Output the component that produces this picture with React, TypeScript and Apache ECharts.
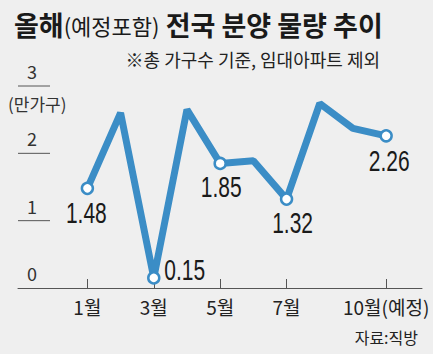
import React, { useEffect, useRef } from "react";
import * as echarts from "echarts";

const months = [1, 2, 3, 4, 5, 6, 7, 8, 9, 10];
const values = [1.48, 2.6, 0.15, 2.65, 1.85, 1.89, 1.32, 2.74, 2.37, 2.26];
const labeledMonths = [1, 3, 5, 7, 10];
const xTickMonths = [1, 3, 5, 7, 10];
const yTicks = [0, 1, 2, 3];
const title = "올해";
const titleParen = "(예정포함)";
const titleRest = " 전국 분양 물량 추이";
const subtitle = "※총 가구수 기준, 임대아파트 제외";
const unitText = "(만가구)";
const sourceText = "자료:직방";

const BLUE = "#3b8dc6";
const LAT = "'Liberation Sans', Arial, sans-serif";
const KR = "'Noto Sans CJK KR', sans-serif";

// label centre offsets (px) relative to the point
const labelOffset: Record<number, [number, number]> = {
  1: [-1, 24],
  3: [31, -8],
  5: [1, 23],
  7: [6, 23],
  10: [3, 25],
};

export default function App() {
  const ref = useRef<HTMLDivElement>(null);
  useEffect(() => {
    const chart = echarts.init(ref.current!, null, { renderer: "svg" });
    const lineData = months.map((m, i) => {
      const labeled = labeledMonths.includes(m);
      if (!labeled) return { value: [m, values[i]], symbol: "none" };
      return {
        value: [m, values[i]],
        symbol: "circle",
        symbolSize: 11,
        itemStyle: { color: "#ffffff", borderColor: BLUE, borderWidth: 2.5 },
      };
    });
    const labelData = months
      .map((m, i) => [m, values[i]])
      .filter((d) => labeledMonths.includes(d[0]));
    chart.setOption({
      animation: false,
      backgroundColor: "#efefef",
      grid: { left: 18, right: 11, top: 86, bottom: 66 },
      xAxis: {
        type: "value",
        min: -1.09,
        max: 11.08,
        axisLine: { show: true, lineStyle: { color: "#555", width: 1 } },
        axisTick: {
          show: true,
          inside: true,
          length: 9,
          customValues: xTickMonths,
          lineStyle: { color: "#555" },
        },
        axisLabel: {
          customValues: xTickMonths,
          formatter: (v: number) => (v === 10 ? "10월(예정)" : v + "월"),
          fontFamily: KR,
          fontSize: 19,
          color: "#222",
          margin: 9,
        },
        splitLine: { show: false },
      },
      yAxis: {
        type: "value",
        min: 0,
        max: 3,
        interval: 1,
        axisLine: { show: false },
        axisTick: { show: false },
        splitLine: { show: false },
        axisLabel: {
          inside: true,
          align: "center",
          verticalAlign: "bottom",
          margin: 14,
          padding: [0, 0, 6, 0],
          fontFamily: KR,
          fontSize: 18,
          color: "#333",
          customValues: yTicks,
        },
      },
      series: [
        {
          type: "custom",
          silent: true,
          clip: false,
          data: yTicks.filter((v) => v > 0).map((v) => [0, v]),
          renderItem: (params: any, api: any) => {
            const p = api.coord([0, api.value(1)]);
            const x0 = params.coordSys.x;
            return {
              type: "line",
              shape: { x1: x0, y1: p[1], x2: x0 + 32, y2: p[1] },
              style: { stroke: "#555", lineWidth: 1 },
            };
          },
          z: 1,
        },
        {
          type: "line",
          data: lineData,
          lineStyle: { color: BLUE, width: 7 },
          itemStyle: { color: BLUE },
          showSymbol: true,
          z: 3,
        },
        {
          type: "custom",
          silent: true,
          clip: false,
          data: labelData,
          z: 4,
          renderItem: (params: any, api: any) => {
            const m = api.value(0);
            const v = api.value(1);
            const p = api.coord([m, v]);
            const off = labelOffset[m] || [0, 24];
            return {
              type: "text",
              x: p[0] + off[0],
              y: p[1] + off[1],
              scaleX: 0.7,
              style: {
                text: v.toFixed(2),
                fontFamily: LAT,
                fontSize: 30,
                fill: "#1a1a1a",
                align: "center",
                verticalAlign: "middle",
              },
            };
          },
        },
      ],
      graphic: [
        {
          type: "text",
          left: 14,
          top: 11,
          style: {
            text: `{a|${title}}{b|${titleParen}}{a|${titleRest}}`,
            rich: {
              a: { fontFamily: KR, fontSize: 27, fontWeight: "bold", fill: "#1a1a1a" },
              b: { fontFamily: KR, fontSize: 22, fontWeight: "normal", fill: "#1a1a1a" },
            },
          },
        },
        {
          type: "text",
          right: 53,
          top: 50,
          style: { text: subtitle, fontFamily: KR, fontSize: 18, fill: "#222" },
        },
        {
          type: "text",
          left: 8,
          top: 95,
          style: { text: unitText, fontFamily: KR, fontSize: 17, fill: "#333" },
        },
        {
          type: "text",
          right: 15,
          top: 329,
          style: { text: sourceText, fontFamily: KR, fontSize: 16, fill: "#222" },
        },
      ],
    });
    return () => chart.dispose();
  }, []);
  return (
    <div
      ref={ref}
      style={{ position: "fixed", left: 0, top: 0, width: 433, height: 354 }}
    />
  );
}
